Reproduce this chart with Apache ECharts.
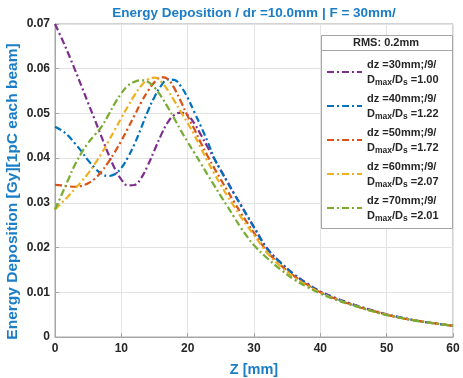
<!DOCTYPE html>
<html>
<head>
<meta charset="utf-8">
<script src="https://cdn.jsdelivr.net/npm/echarts@6/dist/echarts.min.js"></script>
<style>html,body{margin:0;padding:0;background:#fff}#c{width:463px;height:378px}</style>
</head>
<body>
<div id="c"></div>
<script>
// Z [mm]
const zValues = [0,1,2,3,4,5,6,7,8,9,10,11,12,13,14,15,16,17,18,19,20,21,22,23,24,25,26,27,28,29,30,32,34,36,38,40,42,44,46,48,50,52,54,56,58,60];
const seriesNames = ['dz =30mm;/9/','dz =40mm;/9/','dz =50mm;/9/','dz =60mm;/9/','dz =70mm;/9/'];
const ratios = ['1.00','1.22','1.72','2.07','2.01'];
const dz30 = [0.0700,0.0668,0.0634,0.0598,0.0561,0.0523,0.0486,0.0448,0.0411,0.0377,0.0352,0.0339,0.0340,0.0356,0.0384,0.0418,0.0452,0.0480,0.0497,0.0502,0.0496,0.0478,0.0452,0.0425,0.0399,0.0373,0.0347,0.0321,0.0296,0.0271,0.0246,0.0198,0.0167,0.0141,0.0120,0.0102,0.0089,0.0078,0.0068,0.0059,0.0051,0.0044,0.0038,0.0033,0.0029,0.0025];
const dz40 = [0.0470,0.0462,0.0450,0.0433,0.0415,0.0395,0.0378,0.0365,0.0360,0.0364,0.0378,0.0402,0.0432,0.0468,0.0505,0.0537,0.0562,0.0576,0.0575,0.0560,0.0535,0.0503,0.0471,0.0437,0.0400,0.0372,0.0346,0.0320,0.0295,0.0270,0.0245,0.0197,0.0166,0.0140,0.0119,0.0101,0.0088,0.0077,0.0067,0.0058,0.0050,0.0044,0.0038,0.0033,0.0029,0.0025];
const dz50 = [0.0340,0.0339,0.0337,0.0336,0.0338,0.0344,0.0354,0.0370,0.0390,0.0413,0.0439,0.0467,0.0496,0.0525,0.0550,0.0570,0.0581,0.0577,0.0556,0.0526,0.0494,0.0465,0.0434,0.0405,0.0378,0.0352,0.0327,0.0302,0.0278,0.0255,0.0233,0.0191,0.0161,0.0137,0.0117,0.0100,0.0087,0.0076,0.0066,0.0058,0.0050,0.0043,0.0038,0.0033,0.0029,0.0025];
const dz60 = [0.0285,0.0300,0.0315,0.0331,0.0348,0.0366,0.0387,0.0410,0.0436,0.0463,0.0490,0.0516,0.0541,0.0562,0.0576,0.0580,0.0571,0.0552,0.0528,0.0503,0.0478,0.0452,0.0422,0.0393,0.0366,0.0340,0.0315,0.0292,0.0269,0.0248,0.0228,0.0188,0.0158,0.0134,0.0115,0.0099,0.0086,0.0076,0.0066,0.0057,0.0050,0.0043,0.0038,0.0033,0.0029,0.0025];
const dz70 = [0.0285,0.0318,0.0352,0.0385,0.0412,0.0434,0.0452,0.0470,0.0495,0.0522,0.0545,0.0562,0.0571,0.0574,0.0571,0.0558,0.0538,0.0514,0.0488,0.0461,0.0436,0.0412,0.0388,0.0363,0.0339,0.0315,0.0292,0.0268,0.0245,0.0224,0.0205,0.0176,0.0151,0.0129,0.0112,0.0097,0.0085,0.0075,0.0066,0.0057,0.0049,0.0043,0.0037,0.0033,0.0029,0.0025];
const seriesValues = [dz30, dz40, dz50, dz60, dz70];
const colors = ['#7E2F8E','#0072BD','#D95319','#EDB120','#77AC30'];
const xTicks = [0,10,20,30,40,50,60];

const chart = echarts.init(document.getElementById('c'), null, {renderer:'canvas'});
const FONT = 'Liberation Sans, Arial, sans-serif';
const blue = '#1a7dc6';
const option = {
  animation: false,
  backgroundColor: '#fff',
  color: colors,
  title: {
    text: 'Energy Deposition / dr =10.0mm | F = 30mm/',
    left: 254, textAlign: 'center', top: 6, padding: 0,
    textStyle: {color: blue, fontSize: 13.5, fontWeight: 'bold', fontFamily: FONT}
  },
  grid: {left: 55, right: 10, top: 24, bottom: 41, outerBoundsMode: 'none', containLabel: false,
    show: true, borderColor: '#a6a6a6', borderWidth: 1, backgroundColor: 'transparent'},
  xAxis: {
    type: 'value', min: 0, max: 60, interval: 10,
    name: 'Z [mm]', nameLocation: 'middle', nameGap: 25, nameMoveOverlap: false,
    nameTextStyle: {color: blue, fontSize: 14.5, fontWeight: 'bold', fontFamily: FONT},
    axisLine: {show: true, lineStyle: {color: '#a6a6a6', width: 1}},
    axisTick: {show: true, inside: true, length: 4, lineStyle: {color: '#a6a6a6'}},
    axisLabel: {color: '#262626', fontSize: 12, fontWeight: 'bold', fontFamily: FONT, margin: 6,
      formatter: v => xTicks.includes(v) ? String(v) : ''},
    splitLine: {show: true, lineStyle: {color: '#e3e3e3', width: 1}}
  },
  yAxis: {
    type: 'value', min: 0, max: 0.07, interval: 0.01,
    name: 'Energy Deposition [Gy][1pC each beam]', nameLocation: 'middle', nameGap: 34, nameMoveOverlap: false,
    nameTextStyle: {color: blue, fontSize: 15.5, fontWeight: 'bold', fontFamily: FONT, padding: [0, 22, 0, 0]},
    axisLine: {show: true, lineStyle: {color: '#a6a6a6', width: 1}},
    axisTick: {show: true, inside: true, length: 4, lineStyle: {color: '#a6a6a6'}},
    axisLabel: {color: '#262626', fontSize: 12, fontWeight: 'bold', fontFamily: FONT, margin: 5,
      formatter: v => v === 0 ? '0' : v.toFixed(2)},
    splitLine: {show: true, lineStyle: {color: '#e3e3e3', width: 1}}
  },
  legend: {
    orient: 'vertical', left: 322, top: 35,
    padding: [24, 4, 4, 4], itemGap: 6, itemWidth: 35, itemHeight: 14,
    data: seriesNames, z: 6,
    itemStyle: {opacity: 0},
    formatter: function(name){
      const i = seriesNames.indexOf(name);
      return '{a|' + name + '}\n{a|D}{s|max}{a|/D}{s|s}{a| =' + ratios[i] + '}';
    },
    textStyle: {
      color: '#262626', fontFamily: FONT, fontWeight: 'bold', fontSize: 11,
      rich: {
        a: {color: '#262626', fontFamily: FONT, fontWeight: 'bold', fontSize: 11, lineHeight: 15},
        s: {color: '#262626', fontFamily: FONT, fontWeight: 'bold', fontSize: 8.5, verticalAlign: 'bottom'}
      }
    }
  },
  graphic: [
    {type: 'rect', z: 5, shape: {x: 321.5, y: 35.5, width: 131, height: 193}, style: {fill: '#fff', stroke: '#a6a6a6', lineWidth: 1}},
    {type: 'line', z: 5, shape: {x1: 321.5, y1: 50.5, x2: 452.5, y2: 50.5}, style: {stroke: '#a6a6a6', lineWidth: 1}},
    {type: 'text', z: 5, x: 386, y: 43, style: {text: 'RMS: 0.2mm', fill: '#262626', font: 'bold 11px ' + FONT, textAlign: 'center', textVerticalAlign: 'middle'}}
  ],
  series: seriesValues.map((vals, i) => ({
    name: seriesNames[i], type: 'line', showSymbol: false, symbol: 'none', smooth: 0.4,
    lineStyle: {color: colors[i], width: 2.2, type: [7, 3, 2, 3]},
    itemStyle: {color: colors[i]},
    data: zValues.map((z, j) => [z, vals[j]])
  }))
};
chart.setOption(option);
</script>
</body>
</html>
